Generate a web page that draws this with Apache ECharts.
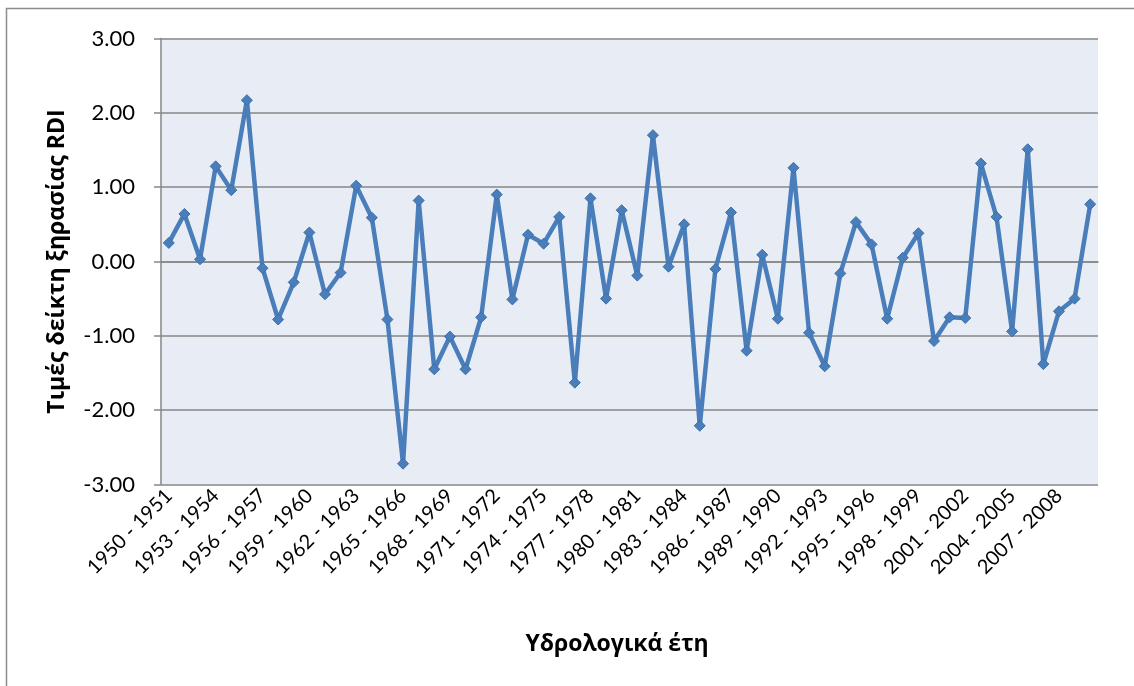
<!DOCTYPE html>
<html>
  <head>
    <meta charset="utf-8" />
    <title>RDI</title>
    <script src="https://cdn.jsdelivr.net/npm/echarts@6/dist/echarts.min.js"></script>
    <style>
      * {
        margin: 0;
        padding: 0;
        box-sizing: border-box;
      }
      body {
        background: #fff;
      }
    </style>
  </head>
  <body>
    <div id="main" style="width: 1134px; height: 686px"></div>
    <script type="text/javascript">
      // υδρολογικά έτη 1950-1951 ... 2009-2010
      const years = [];
      for (let y = 1950; y <= 2009; y++) {
        years.push(y + " - " + (y + 1));
      }

      const rdiValues = [
        0.25, 0.64, 0.03, 1.28, 0.96, 2.17, -0.09, -0.78, -0.28, 0.39,
        -0.44, -0.15, 1.02, 0.59, -0.78, -2.72, 0.82, -1.45, -1.01, -1.45,
        -0.75, 0.9, -0.51, 0.36, 0.24, 0.6, -1.63, 0.85, -0.5, 0.69,
        -0.19, 1.7, -0.07, 0.5, -2.21, -0.1, 0.66, -1.2, 0.09, -0.77,
        1.26, -0.96, -1.41, -0.16, 0.53, 0.23, -0.77, 0.05, 0.38, -1.07,
        -0.75, -0.76, 1.32, 0.6, -0.94, 1.51, -1.38, -0.67, -0.5, 0.77,
      ];

      const yTicks = { min: -3, max: 3, interval: 1 };

      var myChart = echarts.init(document.getElementById("main"));
      const font = "Lato, 'Open Sans', sans-serif";
      const titleFont = "'Open Sans', 'Noto Sans', sans-serif";

      var option = {
        animation: false,
        backgroundColor: "#fff",
        graphic: [
          {
            type: "rect",
            shape: { x: 6.5, y: 8.5, width: 1200, height: 800 },
            style: { fill: "none", stroke: "#8c8c8c", lineWidth: 1.5 },
            silent: true,
            z: -1,
          },
          {
            type: "text",
            x: 617,
            y: 644,
            style: {
              text: "Υδρολογικά έτη",
              font: "bold 23px " + titleFont,
              fill: "#000",
              align: "center",
              verticalAlign: "middle",
            },
          },
        ],
        grid: {
          left: 161,
          right: 36,
          top: 38.5,
          bottom: 201.5,
          show: true,
          backgroundColor: "#e8edf5",
          borderWidth: 0,
        },
        xAxis: {
          type: "category",
          data: years,
          boundaryGap: true,
          axisLine: { show: true, lineStyle: { color: "#868686", width: 1.5 } },
          axisTick: { show: false },
          axisLabel: {
            interval: 2,
            rotate: 45,
            color: "#000",
            fontSize: 20,
            fontFamily: font,
            margin: 8,
          },
        },
        yAxis: {
          type: "value",
          min: yTicks.min,
          max: yTicks.max,
          interval: yTicks.interval,
          name: "Τιμές δείκτη ξηρασίας RDI",
          nameLocation: "middle",
          nameGap: 92,
          nameTextStyle: {
            fontSize: 23,
            fontWeight: "bold",
            fontFamily: titleFont,
            color: "#000",
          },
          axisLine: { show: true, lineStyle: { color: "#868686", width: 1.5 } },
          axisTick: {
            show: true,
            inside: false,
            length: 7,
            lineStyle: { color: "#868686", width: 1.5 },
          },
          splitLine: { show: true, lineStyle: { color: "#868686", width: 1.5 } },
          axisLabel: {
            color: "#000",
            fontSize: 22,
            fontFamily: font,
            margin: 26,
            formatter: (v) => v.toFixed(2),
          },
        },
        series: [
          {
            type: "line",
            data: rdiValues,
            lineStyle: { color: "#4a7ebb", width: 4.5 },
            symbol: "diamond",
            symbolSize: 11,
            showAllSymbol: true,
            itemStyle: {
              color: "#4a7ebb",
              borderColor: "#3d6fa8",
              borderWidth: 1,
            },
          },
        ],
      };

      myChart.setOption(option);
    </script>
  </body>
</html>
